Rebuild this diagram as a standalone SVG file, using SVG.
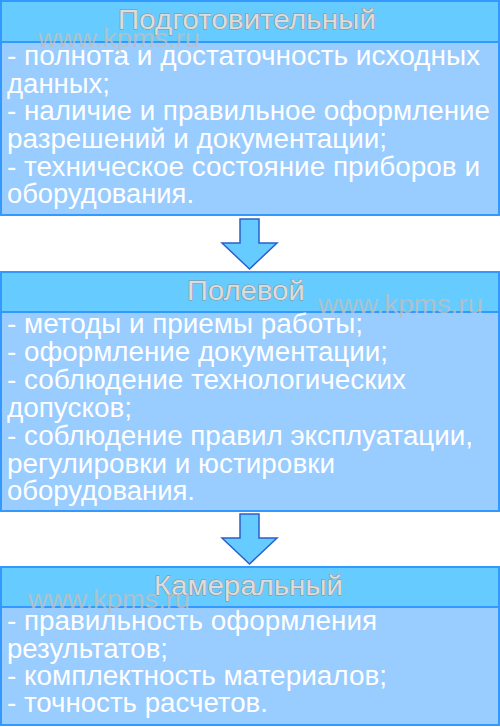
<svg xmlns="http://www.w3.org/2000/svg" width="500" height="727" viewBox="0 0 500 727">
<style>
.hdr{fill:#66CCFF;stroke:#3399FF;stroke-width:2}
.body{fill:#99CCFF;stroke:#3399FF;stroke-width:2}
.ht{font-family:"Liberation Sans",Arial,sans-serif;font-size:27px;fill:#dcdcdc;stroke:#8c8c8c;stroke-width:0.9;paint-order:stroke}
.bt{font-family:"Liberation Sans",Arial,sans-serif;font-size:27px;fill:#ffffff}
.wm{font-family:"Liberation Sans",Arial,sans-serif;font-size:26px;fill:#bfbfbf;opacity:0.8}
.arr{fill:#66CCFF;stroke:#2a5fcf;stroke-width:1.5;stroke-linejoin:miter}
</style>
<rect width="500" height="727" fill="#ffffff"/>
<g id="connectors">
<path class="arr" d="M240,219 H259 V243 H277 L249.5,269 L222,243 H240 Z"/>
<path class="arr" d="M240,514 H259 V538 H277 L249.5,564 L222,538 H240 Z"/>
</g>
<g id="node-podgotovitelny">
<rect class="body" x="1" y="42" width="498" height="173"/>
<rect class="hdr" x="1" y="1" width="498" height="41"/>
<text class="ht" x="118" y="29" textLength="258" lengthAdjust="spacingAndGlyphs">Подготовительный</text>
<text class="bt" x="7" y="65" textLength="473" lengthAdjust="spacingAndGlyphs">- полнота и достаточность исходных</text>
<text class="bt" x="7" y="93" textLength="103" lengthAdjust="spacingAndGlyphs">данных;</text>
<text class="bt" x="7" y="120" textLength="483" lengthAdjust="spacingAndGlyphs">- наличие и правильное оформление</text>
<text class="bt" x="7" y="148" textLength="380" lengthAdjust="spacingAndGlyphs">разрешений и документации;</text>
<text class="bt" x="7" y="176" textLength="473" lengthAdjust="spacingAndGlyphs">- техническое состояние приборов и</text>
<text class="bt" x="7" y="203" textLength="187" lengthAdjust="spacingAndGlyphs">оборудования.</text>
<text class="wm" x="38" y="47" textLength="162" lengthAdjust="spacingAndGlyphs">www.kpms.ru</text>
</g>
<g id="node-polevoy">
<rect class="body" x="1" y="312" width="498" height="199"/>
<rect class="hdr" x="1" y="272" width="498" height="40"/>
<text class="ht" x="187" y="300" textLength="118" lengthAdjust="spacingAndGlyphs">Полевой</text>
<text class="wm" x="318" y="313" textLength="165" lengthAdjust="spacingAndGlyphs">www.kpms.ru</text>
<text class="bt" x="7" y="333" textLength="356" lengthAdjust="spacingAndGlyphs">- методы и приемы работы;</text>
<text class="bt" x="7" y="361" textLength="381" lengthAdjust="spacingAndGlyphs">- оформление документации;</text>
<text class="bt" x="7" y="389" textLength="399" lengthAdjust="spacingAndGlyphs">- соблюдение технологических</text>
<text class="bt" x="7" y="417" textLength="125" lengthAdjust="spacingAndGlyphs">допусков;</text>
<text class="bt" x="7" y="445" textLength="466" lengthAdjust="spacingAndGlyphs">- соблюдение правил эксплуатации,</text>
<text class="bt" x="7" y="473" textLength="328" lengthAdjust="spacingAndGlyphs">регулировки и юстировки</text>
<text class="bt" x="7" y="500" textLength="188" lengthAdjust="spacingAndGlyphs">оборудования.</text>
</g>
<g id="node-kameralny">
<rect class="body" x="1" y="607" width="498" height="118"/>
<rect class="hdr" x="1" y="567" width="498" height="40"/>
<text class="ht" x="154" y="595" textLength="189" lengthAdjust="spacingAndGlyphs">Камеральный</text>
<text class="bt" x="7" y="630" textLength="370" lengthAdjust="spacingAndGlyphs">- правильность оформления</text>
<text class="bt" x="7" y="658" textLength="161" lengthAdjust="spacingAndGlyphs">результатов;</text>
<text class="bt" x="7" y="685" textLength="380" lengthAdjust="spacingAndGlyphs">- комплектность материалов;</text>
<text class="bt" x="7" y="712" textLength="261" lengthAdjust="spacingAndGlyphs">- точность расчетов.</text>
<text class="wm" x="28" y="608" textLength="162" lengthAdjust="spacingAndGlyphs">www.kpms.ru</text>
</g>
</svg>
